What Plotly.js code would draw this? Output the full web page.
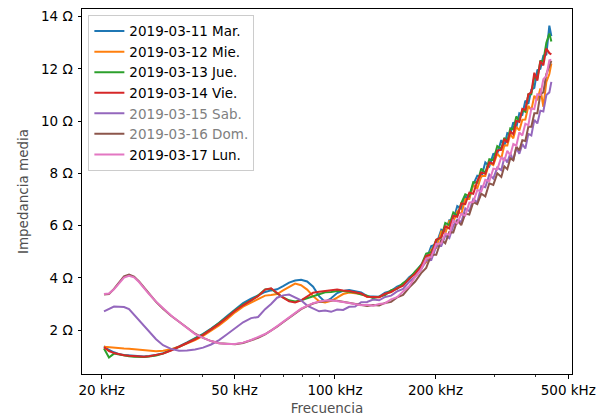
<!DOCTYPE html>
<html>
<head>
<meta charset="utf-8">
<script src="https://cdn.plot.ly/plotly-3.0.1.min.js"></script>
<style>html,body{margin:0;padding:0;background:#fff;}#chart{width:602px;height:416px;}</style>
</head>
<body>
<div id="chart"></div>
<script>
// Frequency in kHz
const freq_khz = [20.32, 21.03, 21.77, 22.54, 23.33, 24.15, 25.00, 25.88, 26.79, 27.73,
  29.10, 30.54, 32.27, 34.11, 36.04, 38.09, 40.25, 42.54, 44.95, 47.50,
  50.20, 53.05, 56.06, 58.83, 61.75, 64.36, 67.08, 69.91, 72.87, 75.95,
  79.16, 82.51, 86.00, 89.63, 93.42, 97.37, 101.5, 105.8, 110.3, 114.9,
  119.8, 124.8, 130.1, 135.6, 141.3, 147.3, 153.5, 160.0, 166.8, 173.9,
  181.2, 187.6, 194.3, 201.1, 208.2, 214.0, 220.0, 226.2, 232.5, 239.0,
  245.7, 252.6, 259.6, 266.9, 274.4, 282.1, 290.0, 298.1, 306.4, 315.0,
  321.6, 328.3, 335.2, 342.2, 349.4, 356.7, 364.2, 371.8, 379.6, 387.5,
  395.6, 403.9, 412.4, 421.0, 429.8, 438.8, 444.9];

const series_names = ["2019-03-11 Mar.", "2019-03-12 Mie.", "2019-03-13 Jue.", "2019-03-14 Vie.",
  "2019-03-15 Sab.", "2019-03-16 Dom.", "2019-03-17 Lun."];
const weekend = [false, false, false, false, true, true, false];

const mar = [1.38, 1.24, 1.15, 1.08, 1.05, 1.03, 1.01, 1.00, 0.99, 1.01,
  1.05, 1.12, 1.24, 1.38, 1.53, 1.68, 1.86, 2.06, 2.28, 2.54,
  2.80, 3.03, 3.20, 3.34, 3.46, 3.52, 3.56, 3.68, 3.82, 3.90,
  3.93, 3.86, 3.66, 3.30, 3.08, 3.22, 3.42, 3.50, 3.53, 3.49,
  3.44, 3.30, 3.28, 3.28, 3.43, 3.50, 3.66, 3.76, 4.02, 4.20,
  4.50, 4.68, 5.22, 5.28, 5.84, 5.76, 6.20, 6.20, 6.75, 6.65,
  7.10, 7.07, 7.58, 7.91, 7.86, 8.42, 8.27, 8.74, 8.76, 9.27,
  9.04, 9.54, 9.50, 9.96, 9.75, 10.30, 10.24, 10.78, 10.66, 11.20,
  11.27, 11.95, 12.00, 12.50, 12.55, 13.65, 13.25];

const mie = [1.36, 1.34, 1.33, 1.31, 1.30, 1.29, 1.27, 1.25, 1.22, 1.20,
  1.19, 1.21, 1.27, 1.36, 1.48, 1.62, 1.78, 1.97, 2.18, 2.42,
  2.68, 2.90, 3.05, 3.20, 3.32, 3.34, 3.38, 3.52, 3.66, 3.78,
  3.72, 3.55, 3.30, 3.10, 3.06, 3.12, 3.24, 3.38, 3.44, 3.42,
  3.38, 3.28, 3.27, 3.26, 3.38, 3.46, 3.61, 3.72, 3.98, 4.16,
  4.42, 4.60, 5.08, 5.14, 5.78, 5.70, 6.18, 6.14, 6.55, 6.44,
  7.02, 7.02, 7.56, 7.42, 7.90, 7.90, 8.40, 8.32, 8.75, 8.58,
  9.07, 9.07, 9.50, 9.34, 9.78, 9.64, 10.05, 10.06, 10.58, 10.42,
  10.97, 10.80, 11.25, 10.55, 11.50, 11.80, 12.20];

const jue = [1.30, 0.95, 1.10, 1.06, 1.02, 1.00, 0.98, 0.97, 0.97, 0.99,
  1.03, 1.10, 1.22, 1.36, 1.51, 1.66, 1.84, 2.04, 2.26, 2.50,
  2.76, 2.98, 3.14, 3.32, 3.56, 3.58, 3.40, 3.25, 3.14, 3.10,
  3.14, 3.22, 3.32, 3.40, 3.45, 3.46, 3.50, 3.50, 3.48, 3.44,
  3.36, 3.32, 3.22, 3.29, 3.34, 3.53, 3.58, 3.80, 3.95, 4.25,
  4.48, 4.93, 4.98, 5.46, 5.54, 6.10, 6.02, 6.50, 6.38, 6.86,
  7.20, 7.13, 7.66, 7.64, 8.18, 8.02, 8.54, 8.50, 9.04, 8.94,
  9.36, 9.22, 9.72, 9.68, 10.18, 9.99, 10.42, 10.36, 11.03, 11.03,
  11.70, 11.64, 12.30, 12.30, 13.00, 13.35, 13.05];

const vie = [1.35, 1.20, 1.12, 1.07, 1.04, 1.02, 1.00, 0.99, 0.98, 1.00,
  1.04, 1.10, 1.22, 1.36, 1.50, 1.65, 1.82, 2.02, 2.24, 2.48,
  2.74, 2.95, 3.12, 3.30, 3.55, 3.60, 3.42, 3.24, 3.10, 3.06,
  3.14, 3.30, 3.43, 3.47, 3.50, 3.53, 3.55, 3.52, 3.50, 3.45,
  3.40, 3.28, 3.27, 3.26, 3.39, 3.46, 3.60, 3.70, 3.96, 4.16,
  4.45, 4.84, 4.90, 5.46, 5.55, 5.97, 5.89, 6.38, 6.34, 6.85,
  6.82, 7.26, 7.22, 7.70, 8.03, 7.98, 8.42, 8.37, 8.87, 8.90,
  9.32, 9.18, 9.60, 9.50, 10.01, 9.97, 10.47, 10.43, 11.02, 11.10,
  11.85, 11.55, 12.30, 12.13, 12.78, 12.60, 12.55];

const sab = [2.72, 2.80, 2.90, 2.89, 2.88, 2.80, 2.58, 2.40, 2.18, 1.95,
  1.65, 1.42, 1.28, 1.21, 1.22, 1.26, 1.33, 1.45, 1.62, 1.84,
  2.06, 2.30, 2.46, 2.50, 2.80, 3.00, 3.24, 3.33, 3.36, 3.24,
  3.14, 2.94, 2.82, 2.72, 2.75, 2.70, 2.79, 2.77, 2.89, 2.90,
  3.07, 3.08, 3.17, 3.14, 3.27, 3.32, 3.48, 3.58, 3.85, 4.04,
  4.32, 4.66, 4.68, 5.21, 5.22, 5.62, 5.52, 6.00, 6.23, 6.13,
  6.66, 6.55, 7.02, 6.88, 7.51, 7.47, 7.95, 7.80, 8.22, 8.12,
  8.60, 8.42, 8.76, 8.50, 8.98, 8.75, 9.12, 8.95, 9.51, 9.45,
  10.05, 9.91, 10.40, 10.37, 11.00, 11.10, 11.50];

const dom = [3.36, 3.38, 3.58, 3.84, 4.06, 4.13, 4.05, 3.86, 3.62, 3.38,
  3.08, 2.82, 2.55, 2.32, 2.08, 1.86, 1.70, 1.58, 1.50, 1.47,
  1.46, 1.51, 1.60, 1.70, 1.84, 1.97, 2.13, 2.30, 2.47, 2.64,
  2.80, 2.92, 3.02, 3.08, 3.12, 3.14, 3.12, 3.08, 3.04, 3.00,
  2.98, 2.92, 2.96, 2.94, 3.04, 3.08, 3.25, 3.35, 3.63, 3.86,
  4.18, 4.38, 4.88, 4.88, 5.46, 5.32, 5.75, 5.74, 6.20, 6.02,
  6.46, 6.42, 6.90, 6.82, 7.22, 7.12, 7.62, 7.56, 8.00, 7.86,
  8.27, 8.16, 8.58, 8.50, 9.02, 8.88, 9.27, 9.24, 9.78, 9.78,
  10.30, 10.30, 11.03, 11.10, 11.80, 12.10, 12.30];

const lun = [3.38, 3.40, 3.56, 3.80, 4.01, 4.08, 4.02, 3.84, 3.60, 3.38,
  3.09, 2.83, 2.56, 2.32, 2.08, 1.85, 1.70, 1.58, 1.50, 1.47,
  1.47, 1.52, 1.62, 1.72, 1.85, 1.98, 2.15, 2.32, 2.50, 2.67,
  2.82, 2.93, 3.03, 3.09, 3.13, 3.14, 3.12, 3.08, 3.04, 3.00,
  2.95, 2.97, 2.93, 3.00, 3.03, 3.18, 3.26, 3.48, 3.68, 4.03,
  4.32, 4.74, 4.80, 5.30, 5.32, 5.70, 5.64, 6.20, 6.08, 6.46,
  6.38, 6.88, 6.90, 7.36, 7.31, 7.75, 7.70, 8.18, 8.15, 8.62,
  8.48, 8.86, 8.70, 9.12, 9.06, 9.57, 9.45, 9.90, 9.84, 10.48,
  10.46, 11.03, 11.00, 11.60, 11.73, 12.33, 12.35];

const x_tick_vals = [20, 50, 100, 200, 500];
const x_tick_text = ["20 kHz", "50 kHz", "100 kHz", "200 kHz", "500 kHz"];
const x_minor_vals = [30, 40, 60, 70, 80, 90, 300, 400];
const y_tick_vals = [2, 4, 6, 8, 10, 12, 14];
const y_tick_text = ["2 Ω", "4 Ω", "6 Ω", "8 Ω", "10 Ω", "12 Ω", "14 Ω"];

const colors = ["#1f77b4", "#ff7f0e", "#2ca02c", "#d62728", "#9467bd", "#8c564b", "#e377c2"];
const allSeries = [mar, mie, jue, vie, sab, dom, lun];

const traces = allSeries.map((ys, i) => ({
  type: "scatter", mode: "lines",
  x: freq_khz, y: ys,
  name: weekend[i] ? '<span style="color:#808080">' + series_names[i] + '</span>' : series_names[i],
  line: {color: colors[i], width: 2}
}));

const FONT = "DejaVu Sans, sans-serif";
const layout = {
  width: 602, height: 416,
  margin: {l: 82, r: 30, t: 9, b: 42, pad: 0},
  paper_bgcolor: "#fff", plot_bgcolor: "#fff",
  font: {family: FONT, size: 13.5, color: "#000"},
  showlegend: true,
  legend: {
    x: 0.013, y: 0.984, xanchor: "left", yanchor: "top",
    bgcolor: "rgba(255,255,255,0.8)", bordercolor: "#cccccc", borderwidth: 1,
    font: {family: FONT, size: 13.5, color: "#000"},
    tracegroupgap: 0, itemwidth: 30
  },
  xaxis: {
    type: "log", range: [Math.log10(17.46), Math.log10(513)],
    tickmode: "array", tickvals: x_tick_vals, ticktext: x_tick_text,
    ticks: "outside", ticklen: 3.5, tickwidth: 1, tickcolor: "#000",
    showline: true, linecolor: "#000", linewidth: 1, mirror: true,
    showgrid: false, zeroline: false,
    minor: {tickvals: x_minor_vals, ticks: "outside", ticklen: 2, tickwidth: 0.8, tickcolor: "#000", showgrid: false},
    title: {text: "Frecuencia", font: {family: FONT, size: 13.5, color: "#505050"}, standoff: 8}
  },
  yaxis: {
    range: [0.32, 14.29],
    tickmode: "array", tickvals: y_tick_vals, ticktext: y_tick_text,
    ticks: "outside", ticklen: 3.5, tickwidth: 1, tickcolor: "#000",
    ticklabelstandoff: 2,
    showline: true, linecolor: "#000", linewidth: 1, mirror: true,
    showgrid: false, zeroline: false,
    title: {text: "Impedancia media", font: {family: FONT, size: 13.5, color: "#505050"}, standoff: 9}
  }
};

Plotly.newPlot("chart", traces, layout, {staticPlot: true, displayModeBar: false});
</script>
</body>
</html>
